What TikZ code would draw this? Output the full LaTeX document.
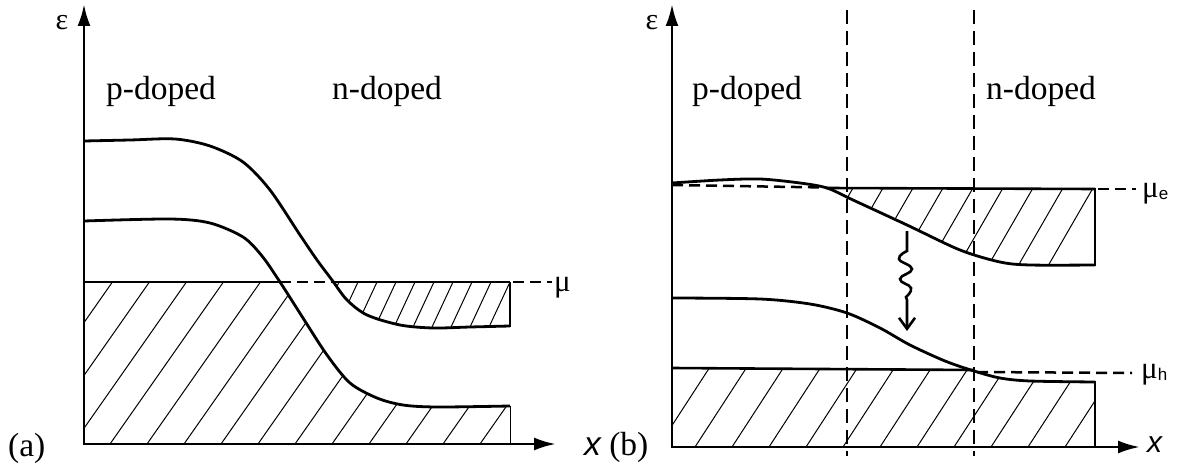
\documentclass[tikz,border=0pt]{standalone}
\usepackage{fontspec}
\setmainfont{Liberation Serif}
\newfontfamily\sansf{Liberation Sans}
\usetikzlibrary{arrows.meta}
\begin{document}
\begin{tikzpicture}[x=1pt,y=-1pt,
 axis/.style={line width=2.9pt,-{Latex[length=22pt,width=13pt]}},
 band/.style={line width=2.8pt},
 lvl/.style={line width=2.6pt},
 dsh/.style={line width=2.5pt,dash pattern=on 11pt off 6pt},
 vdsh/.style={line width=2.5pt,dash pattern=on 14pt off 7pt},
 hatch/.style={line width=1pt},
 lbl/.style={font=\fontsize{33.5}{38}\selectfont, inner sep=0pt},
 eps/.style={font=\fontsize{30}{34}\selectfont, inner sep=0pt},
 mu/.style={font=\fontsize{31}{34}\selectfont, inner sep=0pt},
 xl/.style={font=\fontsize{30}{34}\selectfont\sansf\itshape, inner sep=0pt},
]
\useasboundingbox (0,0) rectangle (1178,468);
\def\curveA{(84,141)(130,140)(175,139)(210,146)(243,162)(270,190)(300,235)(317,260)(332,280)(347,300)(367,315)(400,325)(433,328)(470,327)(510,326)}
\def\curveB{(84,221)(170,219)(210,223)(243,237)(262,256)(280,282)(303,318)(327,355)(350,383)(377,398)(403,405)(437,407)(510,406)}
\def\curveC{(672,183)(720,180)(760,179)(800,183)(827,188)(853,200)(907,225)(960,250)(1000,262)(1030,265)(1095,265)}
\def\curveD{(672,298)(760,299)(810,304)(847,313)(880,328)(910,345)(945,361)(974,371)(1000,378)(1030,381)(1095,382)}

% ---------- panel (a) hatching ----------
\begin{scope}
 \clip (84,282) rectangle (510,444);
 \clip (84,444) -- plot[smooth] coordinates {\curveB} -- (510,444) -- cycle;
 \foreach \i in {-12,...,14} \draw[hatch] ({\i*37+110},444) -- ++({cos(55)*400},{-sin(55)*400});
\end{scope}
\begin{scope}
 \clip (84,282) rectangle (510,444);
 \clip (84,0) -- plot[smooth] coordinates {\curveA} -- (510,0) -- cycle;
 \foreach \i in {0,...,12} \draw[hatch] ({510-\i*19},282) -- ++({-cos(65)*100},{sin(65)*100});
\end{scope}

% ---------- panel (a) lines ----------
\draw[band] plot[smooth] coordinates {\curveA};
\draw[band] plot[smooth] coordinates {\curveB};
\draw[lvl] (84,282) -- (280,282);
\draw[dsh] (280,282) -- (332,282);
\draw[lvl] (332,282) -- (510,282);
\draw[dsh] (513,282) -- (552,282);
\draw[lvl] (510,282) -- (510,327);
\draw[hatch] (510,406) -- (510,444);
\draw[axis] (84,445) -- (84,4);
\draw[axis] (83,444) -- (556,444);

\node[eps,anchor=base] (epsa) at (62,30) {ε};
\node[lbl,anchor=base west] (pa) at (106,100) {p-doped};
\node[lbl,anchor=base west] (na) at (332,100) {n-doped};
\node[mu,anchor=base west] (mua) at (554,291) {μ};
\node[lbl,anchor=base west] (la) at (8,456) {(a)};
\node[lbl,anchor=base west] (lb) at (584,455) {{\sansf\itshape x} (b)};

% ---------- panel (b) hatching ----------
\begin{scope}
 \clip (672,188) rectangle (1095,447);
 \clip (672,0) -- plot[smooth] coordinates {\curveC} -- (1095,0) -- cycle;
 \foreach \i in {0,...,14} \draw[hatch] ({1093-\i*30},188) -- ++({-cos(60)*200},{sin(60)*200});
\end{scope}
\begin{scope}
 \clip (672,369) rectangle (1095,447);
 \clip (672,447) -- plot[smooth] coordinates {\curveD} -- (1095,447) -- cycle;
 \foreach \i in {-3,...,13} \draw[hatch] ({695+\i*37},447) -- ++({cos(57)*200},{-sin(57)*200});
\end{scope}

% ---------- panel (b) lines ----------
\draw[vdsh] (847,10) -- (847,456);
\draw[vdsh] (974,10) -- (974,456);
\draw[band] plot[smooth] coordinates {\curveC};
\draw[band] plot[smooth] coordinates {\curveD};
\draw[dsh] (672,185) -- (826,187.5);
\draw[lvl] (826,188) -- (1095,189);
\draw[dsh] (1098,189) -- (1136,189);
\draw[lvl] (1095,188) -- (1095,266);
\draw[lvl] (672,368) -- (974,370);
\draw[dsh] (977,372) -- (1132,373);
\draw[lvl] (1095,381) -- (1095,447);
\draw[axis] (672,448) -- (672,4);
\draw[axis] (671,447) -- (1140,447);

\draw[lvl,-{Straight Barb[length=11pt,width=16pt]}] (907,231) -- (907,251)
  -- plot[smooth,tension=0.8] coordinates {(907,251)(899,259)(912,269)(900,279)(911,288)(906,297)}
  -- (907,300) -- (907,331);

\node[eps,anchor=base] (epsb) at (652,30) {ε};
\node[lbl,anchor=base west] (pb) at (692,100) {p-doped};
\node[lbl,anchor=base west] (nb) at (986,100) {n-doped};
\node[mu,anchor=base west] (mue) at (1142,197) {μ\raisebox{-0.15ex}{\fontsize{17}{18}\selectfont\sansf e}};
\node[mu,anchor=base west] (muh) at (1141,378) {μ\raisebox{-0.15ex}{\fontsize{17}{18}\selectfont\sansf h}};
\node[xl,anchor=base west] (xb) at (1147,452) {x};
\end{tikzpicture}
\end{document}
